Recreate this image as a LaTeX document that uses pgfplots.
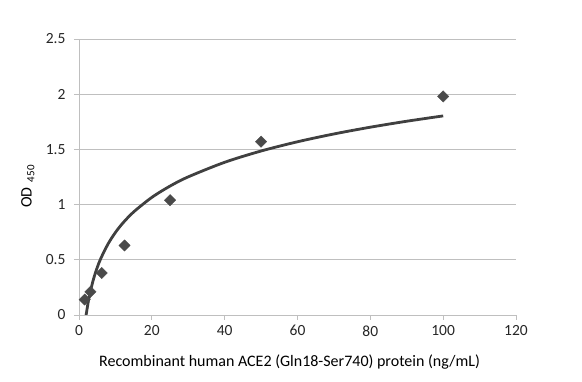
\documentclass[border=0pt]{standalone}
\usepackage{pgfplots}
\pgfplotsset{compat=1.18}
\usepackage{fontspec}
\setmainfont{Carlito}
\definecolor{gridc}{HTML}{BFBFBF}
\definecolor{markc}{HTML}{4A4A4A}
\definecolor{linec}{HTML}{404040}
\begin{document}
\begin{tikzpicture}
\begin{axis}[
  scale only axis,
  width=437pt, height=276pt,
  xmin=0, xmax=120, ymin=0, ymax=2.5,
  xtick={0,20,...,120},
  ytick={0,0.5,...,2.5},
  yticklabels={0,0.5,1,1.5,2,2.5},
  axis lines=left,
  axis line style={gridc, line width=0.8pt, -},
  ymajorgrids,
  grid style={gridc, line width=0.8pt},
  tick style={gridc, line width=0.8pt},
  tick align=outside,
  major tick length=5pt,
  x tick label style={font=\fontsize{15.5}{17}\selectfont, text=black!85, yshift=-2pt},
  y tick label style={font=\fontsize{15.5}{17}\selectfont, text=black!85, xshift=-5pt},
  /pgf/number format/assume math mode=true,
  xlabel={Recombinant human ACE2 (Gln18-Ser740) protein (ng/mL)},
  ylabel={OD\,\,\raisebox{-0.35ex}{\fontsize{11}{12}\selectfont 450}},
  xlabel style={font=\fontsize{16}{18}\selectfont, text=black, at={(axis description cs:0.482,-0.172)}, anchor=center},
  ylabel style={font=\fontsize{16}{18}\selectfont, text=black, at={(axis description cs:-0.117,0.465)}, anchor=center},
  clip=true,
]
\addplot[linec, line width=2.8pt, smooth] coordinates {
(1.96,0) (2,0.0093) (2.5,0.1116) (3,0.1953) (4,0.3272) (5,0.4295) (6,0.5131)
(8,0.6450) (10,0.7475) (12,0.8311) (15,0.9334) (20,1.0653) (25,1.1677)
(30,1.2513) (40,1.3832) (50,1.4855) (60,1.5691) (70,1.6399) (80,1.7011)
(90,1.7551) (100,1.8034)};
\addplot[only marks, mark=square*, mark size=4pt, mark options={rotate=45, fill=markc, draw=markc}] coordinates {
(1.5625,0.14) (3.125,0.21) (6.25,0.38) (12.5,0.63) (25,1.04) (50,1.57) (100,1.98)};
\end{axis}
\path (-79pt,-67pt) rectangle (503pt,315pt);
\end{tikzpicture}
\end{document}
